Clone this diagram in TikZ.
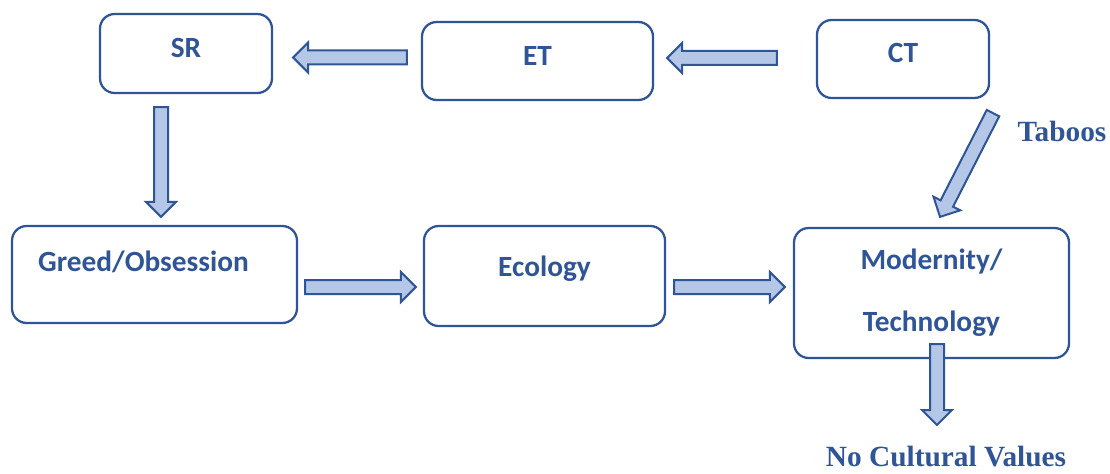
\documentclass[tikz,border=0pt]{standalone}
\usepackage{fontspec}
\newfontfamily\carlito{Carlito}
\newfontfamily\libserif{Liberation Serif}
\usetikzlibrary{calc}
\definecolor{bord}{HTML}{2F5597}
\definecolor{arrfill}{HTML}{B4C7E7}
% block arrow from #1 (tail) to #2 (tip)
\newcommand{\blockarrow}[2]{%
  \coordinate (hb) at ($(#2)!11.25pt!(#1)$);
  \draw[arrowbody] ($(#1)!5.25pt!90:(#2)$) -- ($(hb)!5.25pt!90:(#2)$) -- ($(hb)!11.25pt!90:(#2)$)
    -- (#2) -- ($(hb)!11.25pt!-90:(#2)$) -- ($(hb)!5.25pt!-90:(#2)$) -- ($(#1)!5.25pt!-90:(#2)$) -- cycle;}

\begin{document}
\begin{tikzpicture}[x=0.75pt,y=-0.75pt,
    box/.style={draw=bord,line width=1.7pt,rounded corners=11pt,text=bord,inner sep=0pt,
      font=\carlito\bfseries\fontsize{22}{26}\selectfont,text height=15.4pt},
    side/.style={text=bord,font=\libserif\bfseries\fontsize{22}{26}\selectfont},
    arrowbody/.style={draw=bord,fill=arrfill,line width=1.5pt}]
    \useasboundingbox (0,0) rectangle (1110,474);
    % boxes
    \node[box,minimum width=129pt,minimum height=59.25pt,text depth=8.8pt] (sr) at (186,53.5) {SR};
    \node[box,minimum width=173.25pt,minimum height=58.5pt,text depth=8.8pt] (et) at (537.5,61) {ET};
    \node[box,minimum width=129pt,minimum height=58.5pt,text depth=10.3pt] (ct) at (903,59) {CT};
    \node[box,minimum width=213.75pt,minimum height=72.75pt,text depth=20pt] (greed) at (154.5,274.5) {Greed/Obsession\kern16.5pt};
    \node[box,minimum width=180.75pt,minimum height=75pt,text depth=14.8pt] (eco) at (544.5,276) {Ecology};
    \node[box,minimum width=206.25pt,minimum height=97.5pt,align=center,text height=,text depth=] (mod) at (931.5,293) {Modernity/\\[20.5pt]Technology};
    % labels
    \node[side] (tab) at (1062,131) {Taboos};
    \node[side] (ncv) at (946,457) {No Cultural Values};
    % arrow ends
    \coordinate (a1) at ($(ct.west)+(-39,-1)$);   \coordinate (b1) at ($(et.east)+(13,-3)$);
    \coordinate (a2) at ($(et.west)+(-14,-3.5)$); \coordinate (b2) at ($(sr.east)+(20,4)$);
    \coordinate (a3) at ($(sr.south)+(-25,13)$);  \coordinate (b3) at ($(greed.north)+(6.5,-8)$);
    \coordinate (a4) at ($(greed.east)+(7,12.5)$); \coordinate (b4) at ($(eco.west)+(-7,11)$);
    \coordinate (a5) at ($(eco.east)+(8,11)$);    \coordinate (b5) at ($(mod.west)+(-8,-6)$);
    \coordinate (a6) at ($(ct.south)+(90,14)$);   \coordinate (b6) at ($(mod.north)+(8.5,-10)$);
    \coordinate (a7) at ($(mod.south)+(5.5,-15)$); \coordinate (b7) at ($(ncv)+(-9,-32)$);
    \foreach \i in {1,...,7}
        {
            \blockarrow{a\i}{b\i}
        }
\end{tikzpicture}
\end{document}
